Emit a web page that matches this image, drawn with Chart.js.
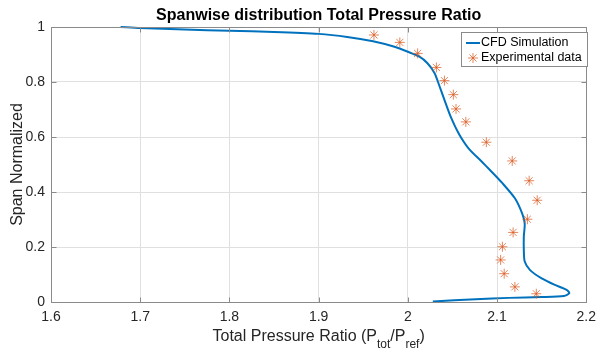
<!DOCTYPE html>
<html>
<head>
<meta charset="utf-8">
<title>Spanwise distribution Total Pressure Ratio</title>
<script src="https://cdn.jsdelivr.net/npm/chart.js@4.4.1/dist/chart.umd.min.js"></script>
<style>
    html, body { margin: 0; padding: 0; background: #fff; }
    #wrap { width: 603px; height: 353px; }
</style>
</head>
<body>
<div id="wrap"><canvas id="chart-span" width="603" height="353"></canvas></div>
<script>
// CFD spanwise profile (pressure ratio vs normalized span)
const cfdRatio = [1.678, 1.700, 1.750, 1.800, 1.850, 1.900, 1.932, 1.961, 1.985, 2.000,
    2.013, 2.022, 2.030, 2.035, 2.041, 2.048, 2.057, 2.068, 2.083, 2.092,
    2.106, 2.120, 2.128, 2.131, 2.130, 2.130, 2.131, 2.137, 2.150, 2.165,
    2.178, 2.181, 2.175, 2.150, 2.113, 2.076, 2.028];
const cfdSpan = [1.000, 0.996, 0.991, 0.986, 0.982, 0.975, 0.964, 0.948, 0.928, 0.910,
    0.892, 0.868, 0.832, 0.789, 0.735, 0.674, 0.613, 0.559, 0.510, 0.480,
    0.432, 0.377, 0.323, 0.286, 0.238, 0.189, 0.147, 0.116, 0.086, 0.062,
    0.044, 0.032, 0.022, 0.018, 0.015, 0.010, 0.002];

// rake measurements
const expRatio = [1.962, 1.991, 2.011, 2.032, 2.041, 2.051, 2.054, 2.065, 2.088, 2.117,
    2.136, 2.145, 2.134, 2.118, 2.106, 2.104, 2.108, 2.120, 2.144];
const expSpan = [0.971, 0.944, 0.904, 0.853, 0.805, 0.754, 0.702, 0.655, 0.581, 0.513,
    0.441, 0.370, 0.301, 0.253, 0.201, 0.153, 0.103, 0.055, 0.030];

const xTickLabels = ['1.6', '1.7', '1.8', '1.9', '2', '2.1', '2.2'];
const yTickLabels = ['0', '0.2', '0.4', '0.6', '0.8', '1'];
const seriesNames = ['CFD Simulation', 'Experimental data'];

const colCfd = '#0072BD';
const colExp = '#D95319';
const colAxis = '#262626';
const colFrame = '#8a8a8a';
const fontFam = '"Liberation Sans", Arial, Helvetica, sans-serif';

const px = v => Math.round(v) + 0.5;

// asterisk marker: plus and cross, same as the plotted points
function drawStar(ctx, x, y, r) {
    ctx.beginPath();
    for (let k = 0; k < 4; k++) {
        const ang = k * Math.PI / 4;
        ctx.moveTo(x - Math.cos(ang) * r, y - Math.sin(ang) * r);
        ctx.lineTo(x + Math.cos(ang) * r, y + Math.sin(ang) * r);
    }
    ctx.stroke();
}

// box, inward ticks, titles and legend drawn over the plot
const matlabAxes = {
    id: 'matlabAxes',
    afterDraw(chart) {
        const ctx = chart.ctx;
        const a = chart.chartArea;
        const sx = chart.scales.x, sy = chart.scales.y;
        const L = px(a.left), R = px(a.right), T = px(a.top), B = px(a.bottom);
        const tl = 5;

        ctx.save();
        ctx.strokeStyle = colFrame;
        ctx.lineWidth = 1;
        ctx.beginPath();
        ctx.rect(L, T, R - L, B - T);
        sx.ticks.forEach(t => {
            const x = px(sx.getPixelForValue(t.value));
            ctx.moveTo(x, B); ctx.lineTo(x, B - tl);
            ctx.moveTo(x, T); ctx.lineTo(x, T + tl);
        });
        sy.ticks.forEach(t => {
            const y = px(sy.getPixelForValue(t.value));
            ctx.moveTo(L, y); ctx.lineTo(L + tl, y);
            ctx.moveTo(R, y); ctx.lineTo(R - tl, y);
        });
        ctx.stroke();

        const cx = (a.left + a.right) / 2;

        // title
        ctx.fillStyle = '#000';
        ctx.font = 'bold 16px ' + fontFam;
        ctx.textAlign = 'center';
        ctx.textBaseline = 'alphabetic';
        ctx.fillText('Spanwise distribution Total Pressure Ratio', cx, 20);

        // y label
        ctx.fillStyle = colAxis;
        ctx.font = '16px ' + fontFam;
        ctx.save();
        ctx.translate(21.5, (a.top + a.bottom) / 2);
        ctx.rotate(-Math.PI / 2);
        ctx.fillText('Span Normalized', 0, 0);
        ctx.restore();

        // x label with subscripts
        const parts = [
            { t: 'Total Pressure Ratio (P', sub: false },
            { t: 'tot', sub: true },
            { t: '/P', sub: false },
            { t: 'ref', sub: true },
            { t: ')', sub: false }
        ];
        const mainFont = '16px ' + fontFam, subFont = '12px ' + fontFam;
        let w = 0;
        parts.forEach(p => { ctx.font = p.sub ? subFont : mainFont; p.w = ctx.measureText(p.t).width; w += p.w; });
        let x0 = cx - w / 2;
        ctx.textAlign = 'left';
        parts.forEach(p => {
            ctx.font = p.sub ? subFont : mainFont;
            ctx.fillText(p.t, x0, p.sub ? 348 : 341);
            x0 += p.w;
        });

        // legend
        const lx = 461.5, ly = 32.5, lw = 126, lh = 34;
        ctx.fillStyle = '#fff';
        ctx.fillRect(lx, ly, lw, lh);
        ctx.strokeStyle = colFrame;
        ctx.lineWidth = 1;
        ctx.strokeRect(lx, ly, lw, lh);
        ctx.strokeStyle = colCfd;
        ctx.lineWidth = 2;
        ctx.beginPath();
        ctx.moveTo(466, 43); ctx.lineTo(480, 43);
        ctx.stroke();
        ctx.strokeStyle = colExp;
        ctx.lineWidth = 0.7;
        drawStar(ctx, 473, 58, 5);
        ctx.fillStyle = '#000';
        ctx.font = '12.5px ' + fontFam;
        ctx.textBaseline = 'middle';
        ctx.fillText(seriesNames[0], 481, 43);
        ctx.fillText(seriesNames[1], 481, 58);
        ctx.restore();
    }
};

const tickFont = { family: fontFam, size: 14 };

new Chart(document.getElementById('chart-span'), {
    type: 'scatter',
    data: {
        datasets: [
            {
                label: seriesNames[0],
                data: cfdRatio.map((v, i) => ({ x: v, y: cfdSpan[i] })),
                showLine: true,
                borderColor: colCfd,
                borderWidth: 2,
                pointRadius: 0,
                tension: 0.25,
                clip: false,
                order: 1
            },
            {
                label: seriesNames[1],
                data: expRatio.map((v, i) => ({ x: v, y: expSpan[i] })),
                showLine: false,
                pointStyle: 'star',
                pointRadius: 5,
                borderColor: colExp,
                backgroundColor: colExp,
                pointBorderWidth: 0.7,
                order: 0
            }
        ]
    },
    options: {
        responsive: false,
        animation: false,
        devicePixelRatio: 1,
        layout: { padding: { top: 27, right: 12, left: 0, bottom: 0 } },
        plugins: {
            legend: { display: false },
            title: { display: false },
            tooltip: { enabled: false }
        },
        scales: {
            x: {
                type: 'linear',
                min: 1.6,
                max: 2.2,
                afterBuildTicks: s => { s.ticks = xTickLabels.map(t => ({ value: parseFloat(t) })); },
                afterFit: s => { s.height = 51; },
                border: { display: false },
                grid: { color: '#e0e0e0', lineWidth: 1, drawTicks: false },
                ticks: {
                    color: colAxis,
                    font: tickFont,
                    padding: 7,
                    maxRotation: 0,
                    callback: (v, i) => xTickLabels[i]
                }
            },
            y: {
                type: 'linear',
                min: 0,
                max: 1,
                afterBuildTicks: s => { s.ticks = yTickLabels.map(t => ({ value: parseFloat(t) })); },
                afterFit: s => { s.width = 51; },
                border: { display: false },
                grid: { color: '#e0e0e0', lineWidth: 1, drawTicks: false },
                ticks: {
                    color: colAxis,
                    font: tickFont,
                    padding: 6,
                    callback: (v, i) => yTickLabels[i]
                }
            }
        }
    },
    plugins: [matlabAxes]
});
</script>
</body>
</html>
